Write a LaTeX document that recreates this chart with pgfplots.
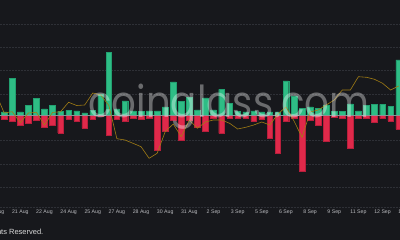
\documentclass[border=0pt]{standalone}
\usepackage{pgfplots}
\pgfplotsset{compat=1.18}
\usepackage{fontspec}
\setmainfont{Liberation Sans}
\newfontfamily\wmfont{Poppins}
\definecolor{bgc}{HTML}{17181C}
\definecolor{gridc}{HTML}{2E3036}
\definecolor{zeroc}{HTML}{8E9096}
\definecolor{upc}{HTML}{2EBD85}
\definecolor{upd}{HTML}{22A070}
\definecolor{dnc}{HTML}{E0294A}
\definecolor{dnd}{HTML}{B81F3C}
\definecolor{linec}{HTML}{A07C14}
\definecolor{tickc}{HTML}{B8B9BD}
\begin{document}
\begin{tikzpicture}
\useasboundingbox (0,0) rectangle (400pt,240pt);
\clip (0,0) rectangle (400pt,240pt);
\fill[bgc] (0,0) rectangle (400pt,240pt);
\begin{axis}[
  at={(-11.9pt,33pt)}, anchor=south west,
  scale only axis, width=426.65pt, height=207pt,
  xmin=-1, xmax=52, ymin=-91.7, ymax=115.3,
  axis line style={draw=none}, tick style={draw=none},
  ytick={91.3,68,44.6,21.3,-25.4,-48.7,-72,-91.7}, yticklabels={},
  ymajorgrids, grid style={gridc, dash pattern=on 1.5pt off 1.5pt, line width=0.5pt},
  xtick={0,3,...,51},
  xticklabels={19 Aug,21 Aug,22 Aug,24 Aug,25 Aug,27 Aug,28 Aug,30 Aug,31 Aug,2 Sep,3 Sep,5 Sep,6 Sep,8 Sep,9 Sep,11 Sep,12 Sep,14 Sep},
  xticklabel style={font=\fontsize{5.2}{6}\selectfont, text=tickc, anchor=center, yshift=-5.5pt, inner sep=0pt},
  clip=false,
]
\addplot[ybar, bar width=5.6pt, bar shift=0pt, fill=upc, draw=upd, line width=0.4pt] coordinates {
(1,3.3) (2,37.0) (3,3.3) (4,9.6) (5,17.0) (6,6.3) (7,9.6) (8,3.6) (9,5.0) (10,4.3)
(11,2.3) (12,4.8) (13,21.3) (14,63.0) (15,6.3) (16,14.3) (17,4.3) (18,3.8) (19,4.3) (20,4.3)
(21,8.3) (22,33.3) (23,13.8) (24,17.6) (25,5.3) (26,17.3) (27,5.3) (28,26.0) (29,12.0) (30,4.0)
(31,3.3) (32,4.3) (33,3.3) (34,3.3) (35,3.3) (36,34.3) (37,19.3) (38,7.0) (39,8.3) (40,7.0)
(41,10.3) (42,3.6) (43,3.6) (44,11.3) (45,4.3) (46,9.6) (47,11.0) (48,11.0) (49,8.6) (50,55.3)
};
\addplot[ybar, bar width=5.6pt, bar shift=0pt, fill=dnc, draw=dnd, line width=0.4pt] coordinates {
(1,-3.7) (2,-6.4) (3,-9.7) (4,-7.7) (5,-4.7) (6,-11.7) (7,-10.4) (8,-17.7) (9,-3.7) (10,-5.7)
(11,-13.2) (12,-3.7) (13,-1.2) (14,-19.7) (15,-4.2) (16,-5.7) (17,-3.0) (18,-3.7) (19,-3.4) (20,-34.7)
(21,-15.7) (22,-4.7) (23,-24.7) (24,-4.7) (25,-11.7) (26,-16.2) (27,-2.7) (28,-18.0) (29,-2.7) (30,-2.7)
(31,-2.7) (32,-6.4) (33,-3.7) (34,-22.7) (35,-38.0) (36,-6.4) (37,-3.2) (38,-55.7) (39,-5.0) (40,-10.2)
(41,-26.4) (42,-2.4) (43,-3.0) (44,-33.0) (45,-3.0) (46,-3.4) (47,-7.4) (48,-3.4) (49,-5.7) (50,-14.0)
};
\draw[zeroc, line width=0.6pt] (axis cs:-1,0) -- (axis cs:52,0);
\addplot[linec, line width=0.6pt, mark=none] coordinates {
(0,21.3) (1,2.3) (2,3.6) (3,-7.4) (4,2.3) (5,3.0) (6,-9.7) (7,2.8) (8,3.6) (9,13.0) (10,9.8)
(11,10.3) (12,22.3) (13,20.3) (14,9.8) (15,-23.4) (16,-24.7) (17,-28.0) (18,-31.4) (19,-43.0) (20,-38.0)
(21,-16.4) (22,-8.7) (23,-21.4) (24,-4.7) (25,-13.0) (26,-6.7) (27,-4.7) (28,-4.7) (29,-8.0) (30,-13.7)
(31,-12.0) (32,-9.7) (33,-6.7) (34,-9.7) (35,1.3) (36,8.3) (37,-5.7) (38,-22.0) (39,3.3) (40,5.3)
(41,10.3) (42,15.3) (43,25.3) (44,25.3) (45,38.6) (46,38.0) (47,36.0) (48,32.0) (49,25.3) (50,29.3)
};
\end{axis}
\node[anchor=base, inner sep=0pt, text=white, opacity=0.36, font=\wmfont\fontsize{44}{44}\selectfont, xscale=0.88] at (229pt,122pt) {coinglass.com};
\node[anchor=east, inner sep=0pt, text=white!85!black, font=\fontsize{7.5}{9}\selectfont] at (43.5pt,7pt) {\textcopyright\ 2023 CoinGlass. All Rights Reserved.};
\end{tikzpicture}
\end{document}
